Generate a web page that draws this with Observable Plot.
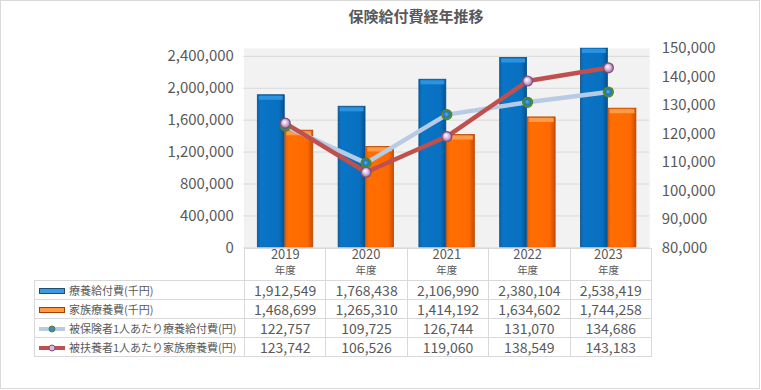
<!DOCTYPE html>
<html><head><meta charset="utf-8">
<script src="https://cdn.jsdelivr.net/npm/d3@7"></script>
<script src="https://cdn.jsdelivr.net/npm/@observablehq/plot@0.6"></script>
<style>
body{margin:0;background:#fff;font-family:"Noto Sans CJK JP",sans-serif;color:#595959}
#wrap{position:relative;width:760px;height:389px;border:1px solid #d9d9d9;box-sizing:border-box;overflow:hidden;background:#fff}
#title{position:absolute;top:5px;left:315px;width:200px;text-align:center;font-size:15px;line-height:20px;font-weight:bold;color:#595959}
#chart{position:absolute;top:-1px;left:-1px}
#tbl{position:absolute;top:247px;left:33px;border-collapse:collapse;table-layout:fixed;width:617px;background:transparent}
#tbl td{border:1px solid #d9d9d9;padding:0;height:18px;line-height:18px;font-size:14px;text-align:center;color:#595959;white-space:nowrap;overflow:hidden}
#tbl tr.head td{height:31px;border-bottom:1px solid #d9d9d9}
#tbl tr.head td.blank{border-top:none;border-left:none}
#tbl td.lab{text-align:left;font-size:11px;padding-left:4px}
#tbl td.lab svg{vertical-align:middle;margin-right:4px;position:relative;top:-1px}
</style></head>
<body>
<div id="wrap">
  <div id="title">保険給付費経年推移</div>
  <div id="chart"></div>
  <table id="tbl"></table>
</div>
<script>
const years = ["2019", "2020", "2021", "2022", "2023"];
const ryouyouKyufu = [1912549, 1768438, 2106990, 2380104, 2538419];
const kazokuRyouyou = [1468699, 1265310, 1414192, 1634602, 1744258];
const hihokenshaPer = [122757, 109725, 126744, 131070, 134686];
const fuyoushaPer = [123742, 106526, 119060, 138549, 143183];
const seriesNames = ["療養給付費(千円)", "家族療養費(千円)", "被保険者1人あたり療養給付費(円)", "被扶養者1人あたり家族療養費(円)"];
const leftTicks = [0, 400000, 800000, 1200000, 1600000, 2000000, 2400000];
const rightTicks = [80000, 90000, 100000, 110000, 120000, 130000, 140000, 150000];
const yearSuffix = "年度";

const leftMax = 2500000, rightMin = 80000, rightMax = 150000;
const toLeft = r => (r - rightMin) / (rightMax - rightMin) * leftMax;
const fromLeft = l => Math.round(l / leftMax * (rightMax - rightMin) + rightMin);
const fmt = d3.format(",");
const font = "'Noto Sans CJK JP', sans-serif";

const rows = years.map((year, i) => ({year, a: ryouyouKyufu[i], b: kazokuRyouyou[i], c: hihokenshaPer[i], d: fuyoushaPer[i]}));

const chart = Plot.plot({
  width: 761, height: 280,
  marginTop: 48, marginBottom: 32, marginLeft: 244, marginRight: 110,
  style: {fontFamily: font, color: "#595959", background: "transparent", overflow: "visible"},
  x: {type: "band", domain: years, padding: 0},
  y: {domain: [0, leftMax]},
  marks: [
    Plot.frame({fill: "#f2f2f2", stroke: "none"}),
    Plot.gridY(leftTicks, {stroke: "#d9d9d9", strokeOpacity: 1}),
    Plot.axisY(leftTicks, {tickSize: 0, tickPadding: 10, fontSize: 15, tickFormat: fmt, label: null}),
    Plot.axisY(rightTicks.map(toLeft), {anchor: "right", tickSize: 0, tickPadding: 12, fontSize: 15, tickFormat: d => fmt(fromLeft(d)), label: null}),
    Plot.axisX({tickSize: 0, tickPadding: 2, fontSize: 13, label: null}),
    Plot.axisX({tickSize: 0, tickPadding: 19, fontSize: 10.5, tickFormat: () => yearSuffix, label: null}),
    Plot.barY(rows, {x: "year", y: "a", fill: "url(#gBlue)", stroke: "#0a4f8a", strokeWidth: 0.8, insetLeft: 13, insetRight: 41, clip: true}),
    Plot.tickY(rows, {x: "year", y: d => Math.min(d.a, leftMax), stroke: "#2b93e0", strokeWidth: 4, dy: 2.6, insetLeft: 14.5, insetRight: 42.5}),
    Plot.barY(rows, {x: "year", y: "b", fill: "url(#gOrange)", stroke: "#b84800", strokeWidth: 0.8, insetLeft: 40.7, insetRight: 12.4, clip: true}),
    Plot.tickY(rows, {x: "year", y: "b", stroke: "#ff9a45", strokeWidth: 4, dy: 2.6, insetLeft: 42.2, insetRight: 13.9}),
    Plot.line(rows, {x: "year", y: d => toLeft(d.c), stroke: "#b7cbe5", strokeWidth: 4.5}),
    Plot.line(rows, {x: "year", y: d => toLeft(d.d), stroke: "#c0504d", strokeWidth: 4.5}),
    Plot.dot(rows, {x: "year", y: d => toLeft(d.c), r: 5, fill: "url(#dGreen)", stroke: "#557f2e", strokeWidth: 1.2}),
    Plot.dot(rows, {x: "year", y: d => toLeft(d.d), r: 5, fill: "url(#dPink)", stroke: "#7d4f7d", strokeWidth: 1.2})
  ]
});

const ns = "http://www.w3.org/2000/svg";
const defs = document.createElementNS(ns, "defs");
defs.innerHTML = `
<linearGradient id="gBlue" x1="0" x2="1" y1="0" y2="0">
  <stop offset="0" stop-color="#0a63ad"/><stop offset="0.12" stop-color="#0a74c6"/>
  <stop offset="0.8" stop-color="#0870c0"/><stop offset="1" stop-color="#05528f"/>
</linearGradient>
<linearGradient id="gOrange" x1="0" x2="1" y1="0" y2="0">
  <stop offset="0" stop-color="#ee6000"/><stop offset="0.12" stop-color="#ff6e00"/>
  <stop offset="0.8" stop-color="#ff6a00"/><stop offset="1" stop-color="#c94d00"/>
</linearGradient>
<radialGradient id="dGreen" cx="0.5" cy="0.5" r="0.5" fx="0.45" fy="0.45">
  <stop offset="0" stop-color="#5fb0ee"/><stop offset="0.55" stop-color="#1b78c4"/>
  <stop offset="0.75" stop-color="#3f8a3a"/><stop offset="1" stop-color="#78a850"/>
</radialGradient>
<radialGradient id="dPink" cx="0.5" cy="0.5" r="0.5" fx="0.4" fy="0.35">
  <stop offset="0" stop-color="#ffffff"/><stop offset="0.45" stop-color="#e6c6e6"/>
  <stop offset="1" stop-color="#9a6a9a"/>
</radialGradient>`;
chart.insertBefore(defs, chart.firstChild);
document.getElementById("chart").appendChild(chart);

// data table (legend + values)
const swatches = [
  `<svg width="26" height="8"><rect x="0.5" y="1.5" width="25" height="5" fill="#3a9be0" stroke="#1f4e79"/></svg>`,
  `<svg width="26" height="8"><rect x="0.5" y="1.5" width="25" height="5" fill="#ff9a40" stroke="#a04000"/></svg>`,
  `<svg width="26" height="8"><line x1="0" x2="26" y1="4" y2="4" stroke="#b7cbe5" stroke-width="4"/><circle cx="13" cy="4" r="3" fill="#3f8ac0" stroke="#557f2e"/></svg>`,
  `<svg width="26" height="8"><line x1="0" x2="26" y1="4" y2="4" stroke="#c0504d" stroke-width="4"/><circle cx="13" cy="4" r="3" fill="#d8b8d8" stroke="#7d4f7d"/></svg>`
];
const valueSeries = [ryouyouKyufu, kazokuRyouyou, hihokenshaPer, fuyoushaPer];
const colW = 407 / 5;
let html = `<colgroup><col style="width:210px">${years.map(() => `<col style="width:${colW}px">`).join("")}</colgroup>`;
html += `<tr class="head"><td class="blank"></td>${years.map(() => "<td></td>").join("")}</tr>`;
valueSeries.forEach((vals, i) => {
  html += `<tr><td class="lab">${swatches[i]}${seriesNames[i]}</td>${vals.map(v => `<td>${fmt(v)}</td>`).join("")}</tr>`;
});
document.getElementById("tbl").innerHTML = html;
</script>
</body></html>
